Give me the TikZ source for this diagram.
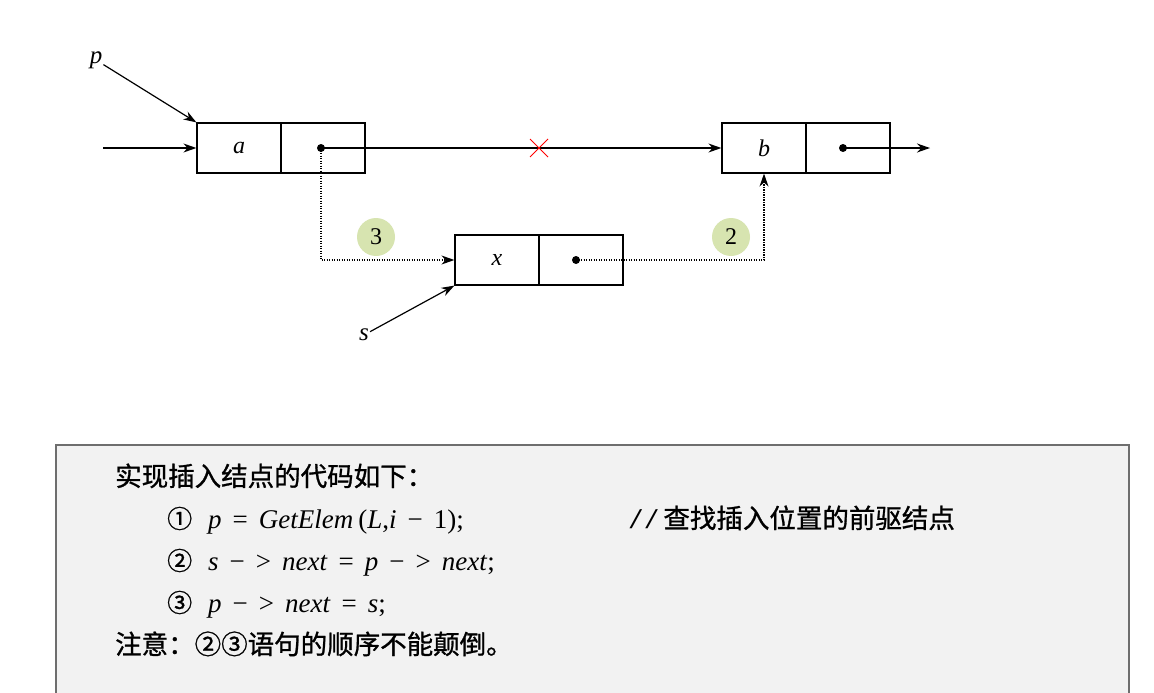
\documentclass[tikz,border=0pt]{standalone}
\usepackage{fontspec}
\setmainfont{Liberation Serif}
\newfontfamily\cjk[FakeBold=1.0]{Noto Sans CJK SC}
\newfontfamily\slfont{Liberation Mono}
\usetikzlibrary{arrows.meta}
\definecolor{boxfill}{HTML}{F2F2F2}
\definecolor{boxline}{HTML}{6E6E6E}
\definecolor{stepgreen}{HTML}{D7E4B0}
\newcommand{\gp}{\hspace{11pt}}
\tikzset{
  cell/.style={draw, line width=1.2pt, minimum width=84pt, minimum height=50pt, inner sep=0pt, font=\fontsize{24}{28}\selectfont\itshape},
  ptr/.style={circle, fill=black, minimum size=8pt, inner sep=0pt},
  arr/.style={line width=1.2pt, -{Stealth[length=13pt,width=9pt]}},
  darr/.style={line width=1.2pt, dash pattern=on 1.2pt off 1.3pt, -{Stealth[length=13pt,width=9pt]}},
  lbl/.style={font=\fontsize{25}{28}\selectfont\itshape, inner sep=1pt},
  stepnum/.style={circle, fill=stepgreen, minimum size=38pt, inner sep=0pt, font=\fontsize{24}{26}\selectfont},
  codeline/.style={anchor=base west, inner sep=0pt, font=\fontsize{27}{30}\selectfont},
  cjkline/.style={anchor=base west, inner sep=0pt, font=\fontsize{26.5}{30}\selectfont\cjk},
}
\begin{document}
\begin{tikzpicture}[x=1pt,y=-1pt]
\clip (0,0) rectangle (1154,693);
\fill[white] (0,0) rectangle (1154,693);
% nodes
\node[cell] (aL) at (239,148) {a};
\node[cell] (aR) at (323,148) {};
\node[cell] (bL) at (764,148) {b};
\node[cell] (bR) at (848,148) {};
\node[cell] (xL) at (497,260) {x};
\node[cell] (xR) at (581,260) {};
\node[ptr] (da) at (321,148) {};
\node[ptr] (db) at (843,148) {};
\node[ptr] (dx) at (576,260) {};
\node[lbl] (p) at (96,60) {p};
\node[lbl] (s) at (364,335) {s};
\coordinate (in) at (103,148);
\coordinate (out) at (930,148);
% connectors
\draw[arr] (in) -- (aL.west);
\draw[arr] (p) -- (aL.north west);
\draw[arr] (s) -- (xL.south west);
\draw[arr] (da.center) -- (bL.west);
\draw[arr] (db.center) -- (out);
\draw[darr] (da.center) |- (xL.west);
\draw[darr] (dx.center) -| (bL.south);
% red cross
\coordinate (xc) at (539,148);
\draw[red, line width=0.9pt] ([shift={(-9,-9)}]xc) -- ([shift={(9,9)}]xc);
\draw[red, line width=0.9pt] ([shift={(-9,9)}]xc) -- ([shift={(9,-9)}]xc);
% step markers
\node[stepnum] (n3) at (376,237) {3};
\node[stepnum] (n2) at (731,237) {2};
% code box
\draw[boxline, fill=boxfill, line width=1.5pt] (56,445) rectangle (1129,720);
\node[cjkline] (t1) at (115,486) {实现插入结点的代码如下：};
\node[codeline] (t2) at (167,528) {{\fontsize{25}{30}\cjk ①}\hspace{16pt}\textit{p}\gp=\gp\textit{GetElem}\hspace{5pt}(\textit{L},\textit{i}\gp−\gp1);};
\node[cjkline] (t2c) at (628,528) {{\slfont\fontsize{26}{30}\selectfont //}\hspace{4pt}查找插入位置的前驱结点};
\node[codeline] (t3) at (167,570) {{\fontsize{25}{30}\cjk ②}\hspace{16pt}\textit{s}\gp−\gp>\gp\textit{next}\gp=\gp\textit{p}\gp−\gp>\gp\textit{next};};
\node[codeline] (t4) at (167,612) {{\fontsize{25}{30}\cjk ③}\hspace{16pt}\textit{p}\gp−\gp>\gp\textit{next}\gp=\gp\textit{s};};
\node[cjkline] (t5) at (115,654) {注意：②③语句的顺序不能颠倒。};
\end{tikzpicture}
\end{document}
